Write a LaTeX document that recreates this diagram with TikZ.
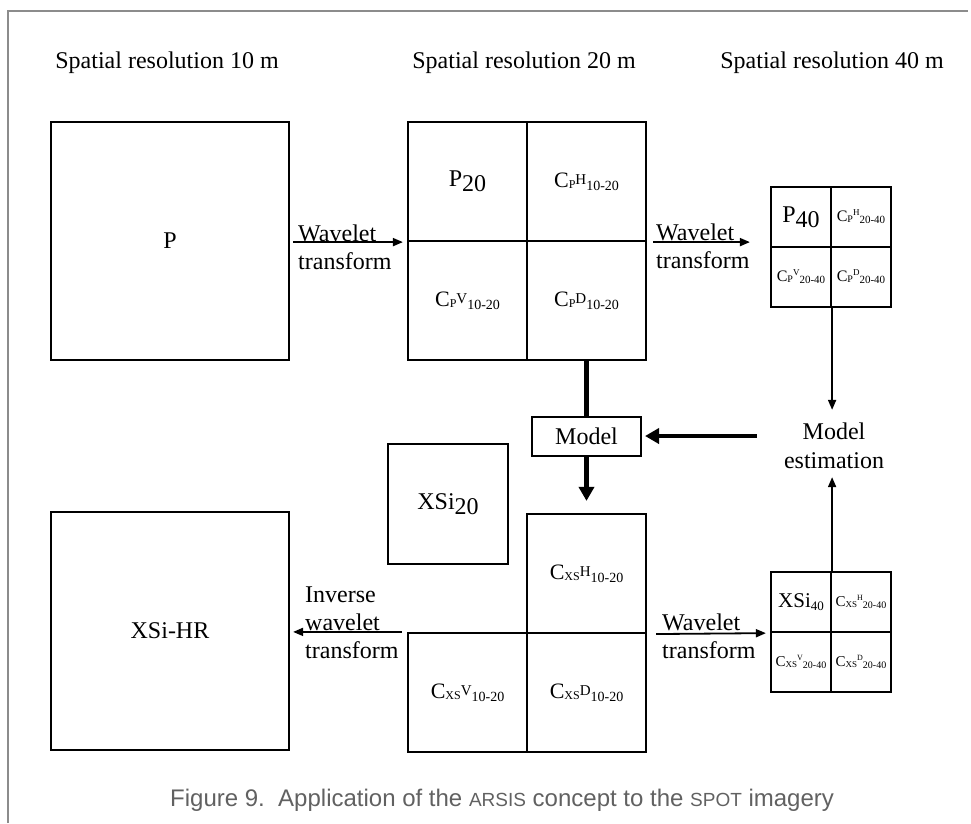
\documentclass[tikz,border=0pt]{standalone}
\usepackage{fontspec}
\setmainfont{Liberation Serif}
\newfontfamily\capfont{Liberation Sans}
\usetikzlibrary{arrows.meta}

% wavelet coefficient label, large cells: C_{sub}^{dir}_{scales}
\newcommand{\coefbig}[3]{{\fontsize{22}{22}\selectfont C}{\fontsize{12}{12}\selectfont\raisebox{-1pt}{#1}}{\fontsize{15}{15}\selectfont\raisebox{3pt}{#2}}{\fontsize{14}{14}\selectfont\raisebox{-3pt}{#3}}}
% wavelet coefficient label, small cells
\newcommand{\coefsmall}[3]{{\fontsize{16}{16}\selectfont C}{\fontsize{10}{10}\selectfont\raisebox{-1pt}{#1}}{\fontsize{9}{9}\selectfont\raisebox{6pt}{#2}}{\fontsize{11}{11}\selectfont\raisebox{-2pt}{#3}}}
\newcommand{\coefxs}[3]{{\fontsize{15}{15}\selectfont C}{\fontsize{9}{9}\selectfont\raisebox{-1pt}{#1}}{\fontsize{8}{8}\selectfont\raisebox{6pt}{#2}}{\fontsize{10}{10}\selectfont\raisebox{-2pt}{#3}}}

\begin{document}
\begin{tikzpicture}[x=1pt,y=-1pt,
  box/.style={draw, line width=2.2pt, inner sep=0pt, minimum width=#1, minimum height=#1, font=\fontsize{24}{24}\selectfont},
  hdr/.style={font=\fontsize{24}{24}\selectfont, anchor=base, inner sep=0pt},
  lbl/.style={font=\fontsize{24}{24}\selectfont, anchor=base west, inner sep=0pt},
  thinarr/.style={line width=1.8pt, -{Triangle[length=10pt,width=8pt]}},
  thickarr/.style={line width=4.5pt, -{Triangle[length=14pt,width=15pt]}},
  thickline/.style={line width=4.5pt}]

\useasboundingbox (0,0) rectangle (971,823);

% page frame
\draw[black!45, line width=1.2pt] (8,823) -- (8,11) -- (968,11);

% column headings
\node[hdr] (h10) at (167,68) {Spatial resolution 10 m};
\node[hdr] (h20) at (524,68) {Spatial resolution 20 m};
\node[hdr] (h40) at (832,68) {Spatial resolution 40 m};

% panchromatic image at 10 m
\node[box=238] (P) at (170,241) {P};

% decomposition at 20 m
\node[box=119] (p20a) at (467.5,181.5) {P\raisebox{-5pt}{20}};
\node[box=119] (p20b) at (586.5,181.5) {\coefbig{P}{H}{10-20}};
\node[box=119] (p20c) at (467.5,300.5) {\coefbig{P}{V}{10-20}};
\node[box=119] (p20d) at (586.5,300.5) {\coefbig{P}{D}{10-20}};

% decomposition at 40 m
\node[box=60] (p40a) at (801,217) {P\raisebox{-5pt}{40}};
\node[box=60] (p40b) at (861,217) {\coefsmall{P}{H}{20-40}};
\node[box=60] (p40c) at (801,277) {\coefsmall{P}{V}{20-40}};
\node[box=60] (p40d) at (861,277) {\coefsmall{P}{D}{20-40}};

% model box and model estimation
\node[draw, line width=2pt, minimum width=109, minimum height=39, inner sep=0pt,
      font=\fontsize{24}{24}\selectfont] (model) at (586.5,436) {Model};
\node[align=center, inner sep=3pt, font=\fontsize{24}{29}\selectfont] (est) at (834,446) {Model\\estimation};

% multispectral image at 20 m
\node[box=120] (xs20) at (448,504) {XSi\raisebox{-5pt}{20}};

% synthesised coefficients at 20 m
\node[box=119] (xsb) at (586.5,573.5) {\coefbig{XS}{H}{10-20}};
\node[box=119] (xsc) at (467.5,692.5) {\coefbig{XS}{V}{10-20}};
\node[box=119] (xsd) at (586.5,692.5) {\coefbig{XS}{D}{10-20}};

% decomposition of XSi at 40 m
\node[box=60] (xs40a) at (801,602) {{\fontsize{21}{21}\selectfont XSi}{\fontsize{13}{13}\selectfont\raisebox{-3pt}{40}}};
\node[box=60] (xs40b) at (861,602) {\coefxs{XS}{H}{20-40}};
\node[box=60] (xs40c) at (801,662) {\coefxs{XS}{V}{20-40}};
\node[box=60] (xs40d) at (861,662) {\coefxs{XS}{D}{20-40}};

% high resolution result
\node[box=238] (hr) at (170,631) {XSi-HR};

% wavelet transform arrows
\draw[thinarr, shorten <=3pt, shorten >=4pt] (P.east |- p20a.south west) -- (p20a.south west);
\node[lbl] (w1a) at (298,241) {Wavelet};
\node[lbl] (w1b) at (298,269) {transform};

\draw[thinarr, shorten <=6pt, shorten >=20pt] (p20b.south east) -- (p40a.west |- p20b.south east);
\node[lbl] (w2a) at (656,240) {Wavelet};
\node[lbl] (w2b) at (656,268) {transform};

\draw[thinarr, shorten <=9pt, shorten >=4pt] (xsb.south east) -- (xs40a.south west);
\node[lbl] (w3a) at (662,630) {Wavelet};
\node[lbl] (w3b) at (662,658) {transform};

% inverse transform
\draw[thinarr, shorten <=5pt, shorten >=3pt] (xsc.north west) -- (hr.east |- xsc.north west);
\node[lbl] (i1) at (305,602) {Inverse};
\node[lbl] (i2) at (305,630) {wavelet};
\node[lbl] (i3) at (305,658) {transform};

% model estimation from the 40 m coefficients
\draw[thinarr, shorten >=10pt] (p40c.south east) -- (p40c.south east |- est.north);
\draw[thinarr, shorten >=5pt] (xs40a.north east) -- (xs40a.north east |- est.south);

% model application
\draw[thickarr, shorten <=24pt, shorten >=3pt] (est.west |- model.east) -- (model.east);
\draw[thickline] (model.north |- p20d.south) -- (model.north);
\draw[thickarr, shorten >=12pt] (model.south) -- (model.south |- xsb.north);

% caption
\node[font=\capfont\fontsize{24}{24}\selectfont, text=black!62, anchor=base west, inner sep=0pt] (cap) at (170,806)
  {Figure 9.\ \ Application of the {\fontsize{19}{19}\selectfont ARSIS} concept to the {\fontsize{19}{19}\selectfont SPOT} imagery};

\end{tikzpicture}
\end{document}
